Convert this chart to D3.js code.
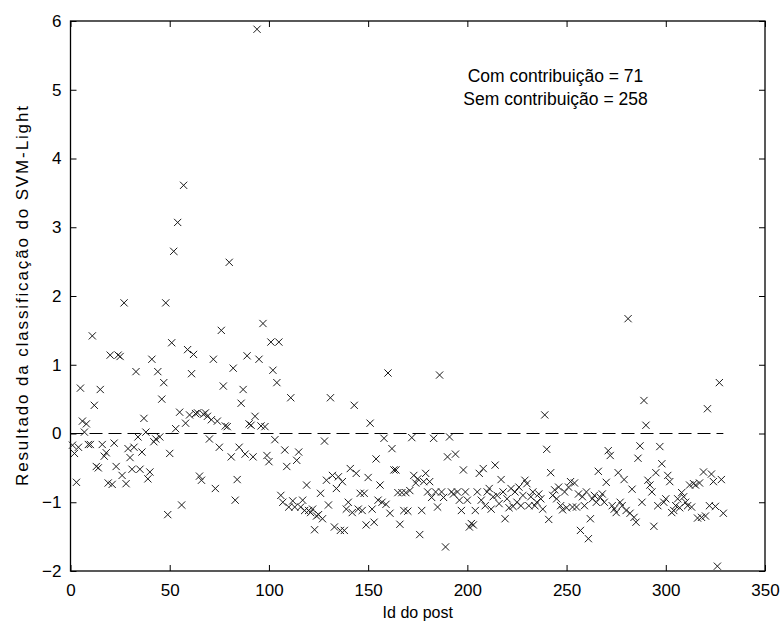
<!DOCTYPE html>
<html lang="pt">
  <head>
    <meta charset="utf-8">
    <title>Resultado SVM-Light por post</title>
    <style>
      body { margin: 0; background: #fff; }
      text { font-family: 'Liberation Sans', Arial, sans-serif; fill: #000; }
    </style>
  </head>
  <body>
    <div id="chart-area"></div>
    <script src="https://cdn.jsdelivr.net/npm/d3@7"></script>
    <script>
      // resultado da classificacao, um valor por post (id 1..329)
      const scores = [
        -0.17, -0.29, -0.71, -0.20, 0.66, 0.18, 0.02, 0.14, -0.16, -0.16,
        1.42, 0.41, -0.48, -0.50, 0.64, -0.16, -0.33, -0.28, -0.72, 1.14,
        -0.74, -0.14, -0.48, 1.14, 1.12, -0.61, 1.90, -0.73, -0.22, -0.35,
        -0.52, -0.20, 0.90, -0.05, -0.52, -0.27, 0.22, 0.02, -0.66, -0.56,
        1.08, -0.12, -0.08, 0.90, -0.05, 0.50, 0.74, 1.90, -1.18, -0.29,
        1.32, 2.65, 0.07, 3.07, 0.31, -1.04, 3.61, 0.15, 1.22, 0.27,
        0.87, 1.15, 0.29, 0.30, -0.62, -0.68, 0.28, 0.30, 0.25, -0.08,
        0.20, 1.08, -0.80, 0.18, -0.20, 1.50, 0.69, 0.11, 0.10, 2.49,
        -0.34, 0.95, -0.97, -0.67, -0.20, 0.44, 0.64, -0.30, 1.13, 0.14,
        0.12, -0.34, 0.25, 5.88, 1.08, 0.11, 1.60, 0.10, -0.32, -0.41,
        1.33, 0.92, -0.09, 0.74, 1.33, -0.90, -1.00, -0.24, -0.48, -1.07,
        0.52, -0.98, -1.07, -0.39, -0.27, -1.07, -0.97, -1.12, -0.75, -1.12,
        -1.15, -1.10, -1.40, -1.20, -1.18, -0.87, -1.24, -0.11, -0.68, -1.04,
        0.52, -0.61, -1.36, -0.80, -0.63, -1.41, -0.70, -1.41, -1.10, -1.00,
        -0.51, -1.15, 0.41, -0.58, -1.10, -0.87, -1.12, -0.87, -1.33, -0.64,
        0.15, -1.10, -1.29, -0.37, -0.97, -0.75, -1.00, -0.07, -1.03, 0.88,
        -1.16, -0.22, -0.53, -0.53, -0.86, -1.32, -0.86, -1.12, -0.86, -1.13,
        -0.83, -0.06, -0.61, -0.72, -0.66, -1.47, -1.12, -0.70, -0.58, -0.85,
        -0.70, -0.93, -0.07, -0.85, -1.07, 0.85, -0.85, -0.93, -1.65, -0.34,
        -0.05, -0.85, -0.88, -0.30, -0.85, -0.97, -1.12, -0.53, -0.85, -0.97,
        -1.36, -1.31, -1.33, -1.12, -0.85, -0.58, -0.97, -0.51, -1.05, -0.85,
        -0.80, -1.10, -0.92, -0.46, -0.90, -1.02, -0.67, -0.85, -1.24, -0.95,
        -1.08, -0.80, -1.06, -0.85, -1.00, -0.78, -1.05, -0.90, -0.68, -0.73,
        -1.05, -0.92, -0.85, -1.05, -1.00, -0.88, -0.95, -1.10, 0.27, -0.23,
        -1.25, -0.57, -0.90, -0.82, -0.95, -0.78, -1.05, -1.11, -0.85, -1.08,
        -0.78, -0.70, -1.07, -0.72, -1.07, -0.88, -1.41, -0.92, -1.05, -0.85,
        -1.53, -1.24, -0.95, -0.90, -1.00, -0.55, -0.93, -0.88, -1.00, -0.71,
        -0.25, -0.32, -1.05, -1.10, -1.15, -0.57, -1.00, -1.05, -0.67, -1.12,
        1.67, -1.16, -0.81, -1.22, -1.29, -0.36, -0.18, -1.00, 0.48, 0.12,
        -0.68, -0.75, -0.85, -1.35, -0.57, -1.05, -0.19, -0.44, -1.00, -0.95,
        -0.61, -0.70, -1.15, -1.12, -1.05, -0.95, -1.08, -0.86, -0.92, -1.00,
        -1.05, -0.75, -1.07, -0.73, -0.75, -1.23, -0.72, -1.22, -0.56, -1.20,
        0.36, -1.05, -0.59, -0.70, -1.06, -1.93, 0.74, -0.67, -1.16
      ];
      const post_ids = scores.map((d, i) => i + 1);

      const x_ticks = [0, 50, 100, 150, 200, 250, 300, 350];
      const y_ticks = [-2, -1, 0, 1, 2, 3, 4, 5, 6];
      const note_lines = ['Com contribuição = 71', 'Sem contribuição = 258'];

      const svg_width = 784;
      const svg_height = 625;
      const margin = {top: 21, right: 19, bottom: 54, left: 70.5};
      const plot_w = svg_width - margin.left - margin.right;
      const plot_h = svg_height - margin.top - margin.bottom;

      const svg = d3.select('#chart-area')
        .append('svg')
        .attr('width', svg_width)
        .attr('height', svg_height);

      const g = svg.append('g')
        .attr('transform', `translate(${margin.left},${margin.top})`);

      const x_scale = d3.scaleLinear().domain([0, 350]).range([0, plot_w]);
      const y_scale = d3.scaleLinear().domain([-2, 6]).range([plot_h, 0]);

      // box + inward ticks on all four sides, like matlab
      const tick_len = 6;
      const axis_style = sel => {
        sel.select('.domain').remove();
        sel.selectAll('line').attr('stroke', '#000');
        sel.selectAll('text').attr('font-size', '17px').attr('fill', '#000')
          .attr('font-family', "'Liberation Sans', Arial, sans-serif");
      };

      g.append('g')
        .attr('transform', `translate(0,${plot_h})`)
        .call(d3.axisBottom(x_scale).tickValues(x_ticks).tickSize(-tick_len).tickPadding(13))
        .call(axis_style);
      g.append('g')
        .call(d3.axisTop(x_scale).tickValues(x_ticks).tickSize(-tick_len).tickFormat(''))
        .call(axis_style);
      g.append('g')
        .call(d3.axisLeft(y_scale).tickValues(y_ticks).tickSize(-tick_len).tickPadding(9))
        .call(axis_style);
      g.append('g')
        .attr('transform', `translate(${plot_w},0)`)
        .call(d3.axisRight(y_scale).tickValues(y_ticks).tickSize(-tick_len).tickFormat(''))
        .call(axis_style);

      g.append('rect')
        .attr('width', plot_w)
        .attr('height', plot_h)
        .attr('fill', 'none')
        .attr('stroke', '#000')
        .attr('stroke-width', 1.3);

      // linha tracejada no zero
      g.append('line')
        .attr('x1', x_scale(0))
        .attr('x2', x_scale(post_ids.length))
        .attr('y1', y_scale(0))
        .attr('y2', y_scale(0))
        .attr('stroke', '#000')
        .attr('stroke-dasharray', '13,6');

      const r = 3.6;
      g.selectAll('.mark').data(scores).enter()
        .append('path')
        .attr('class', 'mark')
        .attr('d', (d, i) => {
          const cx = x_scale(post_ids[i]);
          const cy = y_scale(d);
          return `M${cx - r},${cy - r}L${cx + r},${cy + r}M${cx - r},${cy + r}L${cx + r},${cy - r}`;
        })
        .attr('stroke', '#1a1a1a')
        .attr('stroke-width', 1)
        .attr('fill', 'none');

      g.selectAll('.note').data(note_lines).enter()
        .append('text')
        .attr('class', 'note')
        .attr('x', 485)
        .attr('y', (d, i) => 61 + i * 23)
        .attr('text-anchor', 'middle')
        .attr('font-size', '17.5px')
        .text(d => d);

      svg.append('text')
        .attr('x', margin.left + plot_w / 2)
        .attr('y', 618)
        .attr('text-anchor', 'middle')
        .attr('font-size', '16px')
        .text('Id do post');

      svg.append('text')
        .attr('transform', `translate(28,${margin.top + plot_h / 2}) rotate(-90)`)
        .attr('text-anchor', 'middle')
        .attr('font-size', '17px')
        .attr('textLength', 380)
        .attr('lengthAdjust', 'spacing')
        .text('Resultado da classificação do SVM-Light');
    </script>
  </body>
</html>
